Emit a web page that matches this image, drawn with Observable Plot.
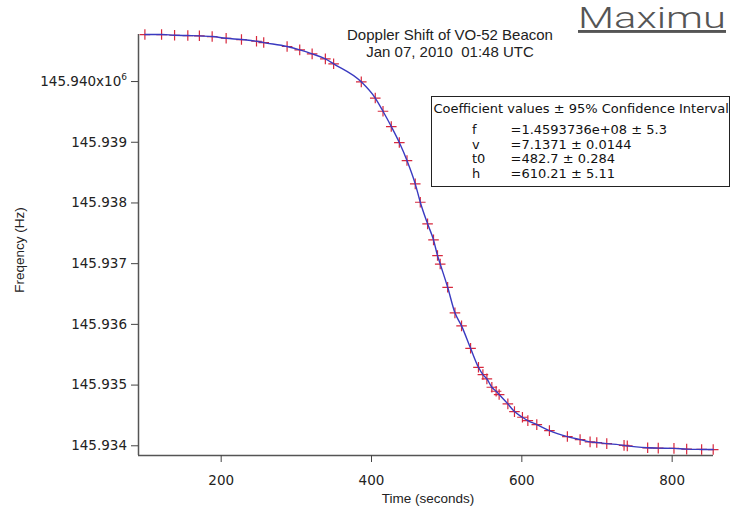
<!DOCTYPE html>
<html><head><meta charset="utf-8">
<script src="https://cdn.jsdelivr.net/npm/d3@7"></script>
<script src="https://cdn.jsdelivr.net/npm/@observablehq/plot@0.6"></script>
<style>
html,body{margin:0;padding:0;background:#fff;}
#chart{position:relative;width:730px;height:509px;overflow:hidden;}
</style></head><body><div id="chart"></div>
<script>
const times = [98.5, 120.7, 138, 155.6, 171, 188, 206.6, 227, 247, 256.6, 287.7, 304.5, 321, 338.6, 349.6, 386.4, 405, 415.3, 426.3, 437, 447.2, 458.2, 464.9, 474.6, 482.5, 487.8, 491.4, 501.3, 511, 519.8, 531.8, 542.3, 548.2, 553.5, 560.1, 565.8, 569.8, 581.4, 590.2, 600.8, 608, 619.9, 636.7, 660.6, 677.5, 690.8, 699.7, 713, 736, 740.3, 767.4, 781.5, 802.4, 819.3, 839.2, 854.6];
const freqs = [145940774, 145940774, 145940763, 145940758, 145940753, 145940741, 145940713, 145940692, 145940664, 145940642, 145940577, 145940522, 145940456, 145940374, 145940292, 145939995, 145939728, 145939511, 145939259, 145938995, 145938699, 145938315, 145938012, 145937656, 145937392, 145937134, 145936994, 145936611, 145936190, 145935975, 145935606, 145935293, 145935173, 145935102, 145934964, 145934898, 145934844, 145934690, 145934563, 145934470, 145934415, 145934349, 145934250, 145934152, 145934102, 145934064, 145934053, 145934036, 145934007, 145933998, 145933967, 145933962, 145933957, 145933945, 145933940, 145933938];
const xTicks = [200, 400, 600, 800];
const yTicks = [145934000, 145935000, 145936000, 145937000, 145938000, 145939000, 145940000];
const xDomain = [90, 855];
const yDomain = [145933840, 145940775];
const titleLines = ["Doppler Shift of VO-52 Beacon", "Jan 07, 2010  01:48 UTC"];
const coefHeader = "Coefficient values ± 95% Confidence Interval";
const coefNames = ["f", "v", "t0", "h"];
const coefValues = ["=1.4593736e+08 ± 5.3", "=7.1371 ± 0.0144", "=482.7 ± 0.284", "=610.21 ± 5.11"];
const xLabel = "Time (seconds)";
const yLabel = "Freqency (Hz)";
const slideTitle = "Maximu";

const data = times.map((t, i) => ({t, f: freqs[i]}));
const topTick = yTicks[yTicks.length - 1];

const plot = Plot.plot({
  width: 730, height: 509,
  marginLeft: 138, marginRight: 17, marginTop: 34, marginBottom: 54,
  style: {fontFamily: "'DejaVu Sans', sans-serif", fontSize: "13.5px", color: "#222", background: "#fff"},
  x: {domain: xDomain, label: null},
  y: {domain: yDomain, label: null},
  marks: [
    Plot.ruleX([xDomain[0]], {stroke: "#555", strokeWidth: 1.5}),
    Plot.ruleY([yDomain[0]], {stroke: "#555", strokeWidth: 1.5}),
    Plot.axisX({ticks: xTicks, tickSize: 7, tickPadding: 13, label: null, stroke: "#444", fill: "#222", fontSize: 13.5}),
    Plot.axisY({ticks: yTicks, tickSize: 7, tickPadding: 4.5, label: null, stroke: "#444", fill: "#222", fontSize: 13.5,
      tickFormat: d => d === topTick ? (d / 1e6).toFixed(3) + "x10" : (d / 1e6).toFixed(3)}),
    Plot.dot(data, {x: "t", y: "f", symbol: "plus", r: 3.5, stroke: "#d8283c", strokeWidth: 1.2}),
    Plot.line(data, {x: "t", y: "f", stroke: "#3a3ac0", strokeWidth: 1.4, curve: "monotone-x"})
  ]
});
document.getElementById("chart").appendChild(plot);

const svg = d3.select(plot);
// superscript exponent on the top tick label
svg.selectAll("text").filter(function() { return this.textContent === (topTick / 1e6).toFixed(3) + "x10"; })
  .append("tspan").attr("dy", "-0.65em").attr("font-size", "9px").text("6");

const sans = "'Liberation Sans', Arial, sans-serif";
// title
svg.append("text").attr("x", 450).attr("y", 40).attr("text-anchor", "middle")
  .attr("font-family", sans).attr("font-size", 15).attr("fill", "#222").text(titleLines[0]);
svg.append("text").attr("x", 450).attr("y", 57).attr("text-anchor", "middle")
  .attr("font-family", sans).attr("font-size", 15).attr("fill", "#222").text(titleLines[1]);
// axis titles
svg.append("text").attr("x", 428).attr("y", 503).attr("text-anchor", "middle")
  .attr("font-family", sans).attr("font-size", 13.5).attr("fill", "#222").text(xLabel);
svg.append("text").attr("transform", "translate(24,250) rotate(-90)").attr("text-anchor", "middle")
  .attr("font-family", sans).attr("font-size", 13.5).attr("fill", "#222").text(yLabel);
// coefficient box
const box = svg.append("g").attr("font-family", "'DejaVu Sans', sans-serif").attr("font-size", 13)
  .attr("fill", "#111").attr("text-anchor", "start");
box.append("rect").attr("x", 431.5).attr("y", 96.5).attr("width", 298).attr("height", 90)
  .attr("fill", "#fff").attr("stroke", "#222").attr("stroke-width", 1);
box.append("text").attr("x", 433.5).attr("y", 113).text(coefHeader);
coefNames.forEach((n, i) => {
  const y = 134 + i * 14.7;
  box.append("text").attr("x", 472).attr("y", y).text(n);
  box.append("text").attr("x", 510.5).attr("y", y).text(coefValues[i]);
});
// slide heading
svg.append("text").attr("x", 578).attr("y", 28).attr("text-anchor", "start")
  .attr("font-family", "Roboto, sans-serif").attr("font-weight", 300)
  .attr("font-size", 29).attr("fill", "#555").attr("text-decoration", "underline")
  .attr("textLength", 148).attr("lengthAdjust", "spacingAndGlyphs").text(slideTitle);
</script></body></html>
